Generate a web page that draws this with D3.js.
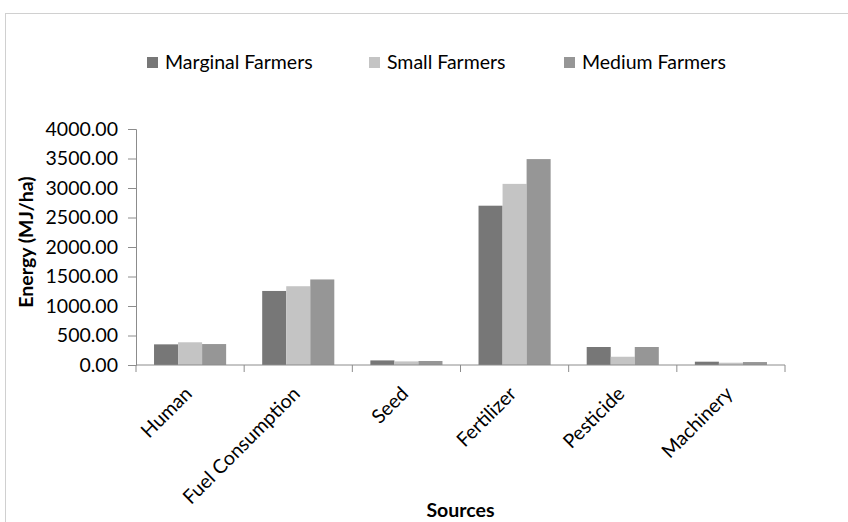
<!DOCTYPE html>
<html lang="en">
  <head>
    <meta charset="utf-8">
    <title>Energy by source</title>
    <script src="https://d3js.org/d3.v7.min.js"></script>
    <style>
      body { margin: 0; background: #fff; }
      text { font-family: Lato, "Open Sans", sans-serif; fill: #000; }
    </style>
  </head>
  <body>
    <div id="chart"></div>
    <script type="text/javascript">
      const sources = ["Human", "Fuel Consumption", "Seed", "Fertilizer", "Pesticide", "Machinery"];
      const seriesNames = ["Marginal Farmers", "Small Farmers", "Medium Farmers"];
      const marginal = [350, 1255, 78, 2700, 305, 56];
      const small = [385, 1335, 61, 3070, 140, 39];
      const medium = [355, 1450, 68, 3490, 305, 50];
      const yTicks = [0, 500, 1000, 1500, 2000, 2500, 3000, 3500, 4000];
      const colors = ["#777777", "#c4c4c4", "#969696"];

      function drawChart() {
          let svgWidth = 848,
              svgHeight = 522;

          let margin = { top: 129, left: 136, right: 63, bottom: 157 },
              width = svgWidth - margin.left - margin.right,
              height = svgHeight - margin.top - margin.bottom;

          let fontSize = "19.5px";

          let svg = d3.select("#chart")
              .append("svg")
              .attr("width", svgWidth)
              .attr("height", svgHeight);

          // outer chart border (runs off the right/bottom edges)
          svg.append("rect")
              .attr("x", 5.5)
              .attr("y", 13.5)
              .attr("width", 900)
              .attr("height", 600)
              .attr("fill", "none")
              .attr("stroke", "#d0d0d0");

          let g = svg.append("g")
              .attr("transform", "translate(" + margin.left + "," + margin.top + ")");

          let x0 = d3.scaleBand()
              .domain(sources)
              .range([0, width]);

          // gap between groups = 1.5 bar widths
          let x1 = d3.scaleBand()
              .domain(seriesNames)
              .range([0, x0.bandwidth()])
              .paddingOuter(0.75)
              .paddingInner(0);

          let y = d3.scaleLinear()
              .domain([0, 4000])
              .range([height, 0]);

          let rows = sources.map((s, i) => ({
              source: s,
              values: [marginal[i], small[i], medium[i]]
          }));

          let groups = g.selectAll("g.group")
              .data(rows)
              .join("g")
              .attr("class", "group")
              .attr("transform", d => "translate(" + x0(d.source) + ",0)");

          groups.selectAll("rect")
              .data(d => d.values.map((v, k) => ({ name: seriesNames[k], value: v, k: k })))
              .join("rect")
              .attr("x", d => x1(d.name))
              .attr("width", x1.bandwidth())
              .attr("y", d => y(d.value))
              .attr("height", d => height - y(d.value))
              .attr("fill", d => colors[d.k]);

          // y axis
          let yAxis = g.append("g")
              .call(d3.axisLeft(y).tickValues(yTicks).tickSize(8).tickPadding(10)
                  .tickFormat(d3.format(".2f")));
          yAxis.select(".domain").attr("stroke", "#8c8c8c");
          yAxis.selectAll(".tick line").attr("stroke", "#8c8c8c");
          yAxis.selectAll(".tick text")
              .style("font-size", fontSize);

          // x axis with ticks at category boundaries
          let xAxis = g.append("g")
              .attr("transform", "translate(0," + height + ")");
          xAxis.append("line")
              .attr("x1", 0).attr("x2", width)
              .attr("stroke", "#8c8c8c");
          let bounds = sources.map(s => x0(s)).concat([width]);
          xAxis.selectAll("line.tk")
              .data(bounds)
              .join("line")
              .attr("class", "tk")
              .attr("x1", d => d).attr("x2", d => d)
              .attr("y1", 0).attr("y2", 7)
              .attr("stroke", "#8c8c8c");

          xAxis.selectAll("text.cat")
              .data(sources)
              .join("text")
              .attr("class", "cat")
              .attr("text-anchor", "end")
              .attr("transform", d => "translate(" + (x0(d) + x0.bandwidth() / 2 + 3) + ",30) rotate(-45)")
              .style("font-size", fontSize)
              .text(d => d);

          // axis titles
          svg.append("text")
              .attr("text-anchor", "middle")
              .attr("transform", "translate(33,242) rotate(-90)")
              .style("font-size", fontSize)
              .style("font-weight", "bold")
              .text("Energy (MJ/ha)");

          svg.append("text")
              .attr("text-anchor", "middle")
              .attr("x", margin.left + width / 2)
              .attr("y", 517)
              .style("font-size", fontSize)
              .style("font-weight", "bold")
              .text("Sources");

          // legend
          let legendX = [147, 369, 564];
          let legend = svg.selectAll("g.legend")
              .data(seriesNames)
              .join("g")
              .attr("class", "legend")
              .attr("transform", (d, i) => "translate(" + legendX[i] + ",57)");
          legend.append("rect")
              .attr("width", 11)
              .attr("height", 11)
              .attr("fill", (d, i) => colors[i]);
          legend.append("text")
              .attr("x", 18)
              .attr("y", 12)
              .style("font-size", fontSize)
              .text(d => d);
      }

      drawChart();
    </script>
  </body>
</html>
